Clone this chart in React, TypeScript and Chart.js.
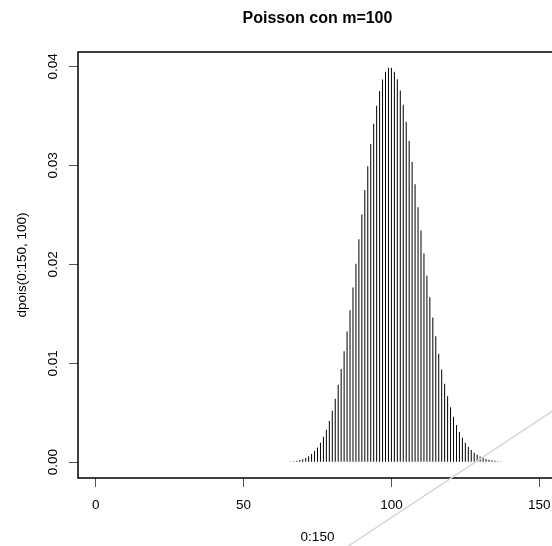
import React, { useEffect, useRef } from 'react';
import { Chart, registerables } from 'chart.js';

Chart.register(...registerables);

// ---- data ----
const kValues = [
  66, 67, 68, 69, 70, 71, 72, 73, 74, 75, 76, 77, 78, 79, 80, 81, 82, 83, 84, 85,
  86, 87, 88, 89, 90, 91, 92, 93, 94, 95, 96, 97, 98, 99, 100, 101, 102, 103, 104, 105,
  106, 107, 108, 109, 110, 111, 112, 113, 114, 115, 116, 117, 118, 119, 120, 121, 122, 123, 124, 125,
  126, 127, 128, 129, 130, 131, 132, 133, 134, 135, 136, 137, 138,
];
const probValues = [
  0.000068341, 0.000102, 0.00015, 0.00021739, 0.00031056, 0.00043741, 0.00060751, 0.0008322,
  0.0011246, 0.0014995, 0.001973, 0.0025623, 0.003285, 0.0041582, 0.0051978, 0.006417,
  0.0078256, 0.0094285, 0.011224, 0.013205, 0.015355, 0.017649, 0.020056, 0.022535,
  0.025039, 0.027515, 0.029908, 0.032159, 0.034212, 0.036012, 0.037513, 0.038673,
  0.039462, 0.039861, 0.039861, 0.039466, 0.038692, 0.037565, 0.03612, 0.0344,
  0.032453, 0.03033, 0.028083, 0.025764, 0.023422, 0.021101, 0.01884, 0.016673,
  0.014625, 0.012718, 0.010963, 0.0093704, 0.007941, 0.0066731, 0.0055609, 0.0045958,
  0.0037671, 0.0030627, 0.0024699, 0.0019759, 0.0015682, 0.0012348, 0.00096468, 0.00074781,
  0.00057524, 0.00043912, 0.00033267, 0.00025013, 0.00018666, 0.00013827, 0.00010167, 0.000074212,
  0.000053777,
];
const xTickValues = [0, 50, 100, 150];
const xTickLabels = ['0', '50', '100', '150'];
const yTickValues = [0, 0.01, 0.02, 0.03, 0.04];
const yTickLabels = ['0.00', '0.01', '0.02', '0.03', '0.04'];
const refLineX = [80, 170];
const refLineY = [-0.00955, 0.00825];
const chartTitle = 'Poisson con m=100';
const xTitle = '0:150';
const yTitle = 'dpois(0:150, 100)';

const FONT = 'Liberation Sans, Arial, Helvetica, sans-serif';

const boxPlugin = {
  id: 'rbox',
  beforeDatasetsDraw(chart: any) {
    const { ctx, chartArea: a } = chart;
    ctx.save();
    ctx.strokeStyle = '#000';
    ctx.lineWidth = 1.5;
    ctx.strokeRect(a.left, a.top, a.right - a.left, a.bottom - a.top);
    ctx.restore();
  },
};

export default function App() {
  const ref = useRef<HTMLCanvasElement | null>(null);

  useEffect(() => {
    if (!ref.current) return;
    Chart.defaults.font.family = FONT;
    const chart = new Chart(ref.current, {
      type: 'bar',
      data: {
        datasets: [
          {
            type: 'line',
            data: refLineX.map((x, i) => ({ x, y: refLineY[i] })),
            borderColor: '#d6d6d6',
            borderWidth: 1.5,
            pointRadius: 0,
            clip: false,
            xAxisID: 'x',
            yAxisID: 'y',
          } as any,
          {
            type: 'bar',
            data: kValues.map((k, i) => ({ x: k, y: probValues[i] })),
            backgroundColor: '#000',
            borderWidth: 0,
            barThickness: 1,
            inflateAmount: 0,
            xAxisID: 'x',
            yAxisID: 'y',
          } as any,
        ],
      },
      options: {
        animation: false,
        responsive: false,
        devicePixelRatio: 1,
        layout: { padding: 0 },
        plugins: {
          legend: { display: false },
          tooltip: { enabled: false },
          title: {
            display: true,
            text: chartTitle,
            color: '#000',
            font: { family: FONT, size: 16, weight: 'bold' },
            padding: { top: 9, bottom: 23.8 },
          },
        },
        scales: {
          x: {
            type: 'linear',
            position: 'bottom',
            min: -6,
            max: 156,
            offset: false,
            afterBuildTicks: (s: any) => {
              s.ticks = xTickValues.map((v) => ({ value: v }));
            },
            afterFit: (s: any) => {
              s.height = 68;
            },
            ticks: {
              callback: (_v: any, i: number) => xTickLabels[i],
              color: '#000',
              font: { family: FONT, size: 13.5 },
              padding: 10,
              maxRotation: 0,
              minRotation: 0,
              autoSkip: false,
            },
            grid: {
              display: true,
              offset: false,
              drawOnChartArea: false,
              drawTicks: true,
              tickLength: 9,
              tickColor: '#555',
              lineWidth: 1,
            },
            border: { display: false },
            title: {
              display: true,
              text: xTitle,
              color: '#000',
              font: { family: FONT, size: 13.5 },
              padding: { top: 0, bottom: 0.5 },
            },
          },
          y: {
            type: 'linear',
            position: 'left',
            min: -0.0015946,
            max: 0.041454,
            afterBuildTicks: (s: any) => {
              s.ticks = yTickValues.map((v) => ({ value: v }));
            },
            afterFit: (s: any) => {
              s.width = 78;
            },
            ticks: {
              callback: (_v: any, i: number) => yTickLabels[i],
              color: '#000',
              font: { family: FONT, size: 13.5 },
              padding: 3,
              minRotation: 90,
              maxRotation: 90,
              crossAlign: 'center',
              autoSkip: false,
            },
            grid: {
              display: true,
              drawOnChartArea: false,
              drawTicks: true,
              tickLength: 9,
              tickColor: '#555',
              lineWidth: 1,
            },
            border: { display: false },
            title: {
              display: true,
              text: yTitle,
              color: '#000',
              font: { family: FONT, size: 13.5 },
              padding: { top: 14, bottom: 0 },
            },
          },
          yr: {
            type: 'linear',
            position: 'right',
            display: true,
            ticks: { display: false },
            grid: { display: false },
            border: { display: false },
            afterFit: (s: any) => {
              s.width = 78;
            },
          },
        },
      } as any,
      plugins: [boxPlugin],
    });
    return () => chart.destroy();
  }, []);

  return (
    <div
      style={{
        position: 'absolute',
        left: 0,
        top: 0,
        width: 552,
        height: 546,
        overflow: 'hidden',
        background: '#fff',
      }}
    >
      <canvas ref={ref} width={635} height={546} style={{ display: 'block' }} />
    </div>
  );
}
